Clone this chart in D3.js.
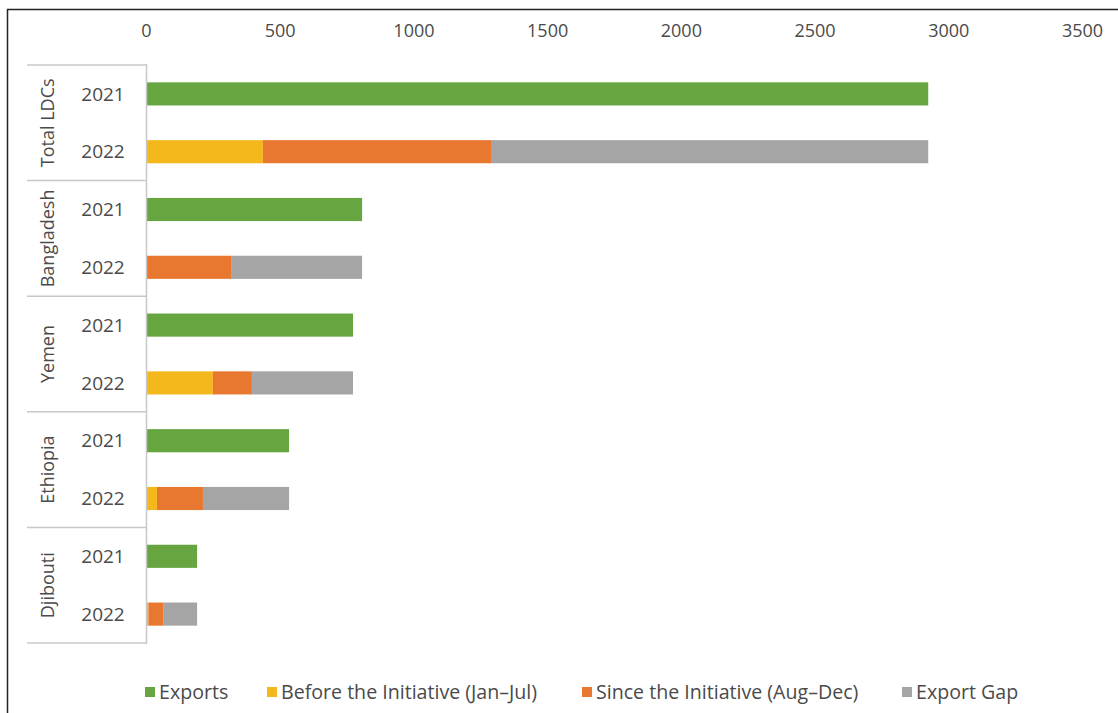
<!DOCTYPE html>
<html><head><meta charset="utf-8">
<script src="https://cdn.jsdelivr.net/npm/d3@7"></script>
<style>body{margin:0;background:#fff}svg{display:block}text{font-family:"Open Sans","Noto Sans",sans-serif;fill:#4a4a4a}</style>
</head><body><svg id="c" width="1118" height="713"></svg>
<script>
const groups = ["Total LDCs","Bangladesh","Yemen","Ethiopia","Djibouti"];
const years = ["2021","2022"];
const exports2021 = [2925, 808, 774, 535, 191];
const before2022 = [437, 0, 250, 41, 9];
const since2022 = [853, 318, 146, 172, 55];
const gap2022 = [1635, 490, 378, 322, 127];
const ticks = [0,500,1000,1500,2000,2500,3000,3500];
const seriesNames = ["Exports","Before the Initiative (Jan\u2013Jul)","Since the Initiative (Aug\u2013Dec)","Export Gap"];
const colors = ["#66a53f","#f5b81c","#e87730","#a5a5a5"];

const svg = d3.select("#c");
// frame
svg.append("path").attr("d","M7.5,713 V9.5 H1118").attr("fill","none").attr("stroke","#222").attr("stroke-width",1.5);

const x = d3.scaleLinear().domain([0,3500]).range([146,1082]);
const rows = [];
groups.forEach((g,i)=>years.forEach(y=>rows.push(g+"|"+y)));
const yb = d3.scaleBand().domain(rows).range([65,643]).paddingInner(0.6).paddingOuter(0.3);

// top axis labels
const ax = svg.append("g").attr("transform","translate(0,40)").call(d3.axisTop(x).tickValues(ticks).tickSize(0).tickFormat(d3.format("d")));
ax.select(".domain").remove();
ax.selectAll("text").attr("font-size",18).style("fill","#4a4a4a").attr("font-family","Open Sans");

// stacked data
const stackRows = [];
groups.forEach((g,i)=>{
  stackRows.push({key:g+"|2021", vals:[exports2021[i],0,0,0]});
  stackRows.push({key:g+"|2022", vals:[0,before2022[i],since2022[i],gap2022[i]]});
});
stackRows.forEach(r=>{
  let acc=0;
  r.vals.forEach((v,k)=>{
    if(v>0){
      svg.append("rect").attr("x",x(acc)).attr("width",x(acc+v)-x(acc))
        .attr("y",yb(r.key)).attr("height",yb.bandwidth()).attr("fill",colors[k]);
    }
    acc+=v;
  });
});

// axis line
svg.append("line").attr("x1",146.5).attr("x2",146.5).attr("y1",64).attr("y2",644).attr("stroke","#c8c8c8").attr("stroke-width",1.5);

// group separators and labels
groups.forEach((g,i)=>{
  const y0 = 65 + i*(578/5);
  svg.append("line").attr("x1",27).attr("x2",146).attr("y1",y0).attr("y2",y0).attr("stroke","#c8c8c8").attr("stroke-width",1.5);
  const cy = y0 + 578/10;
  svg.append("text").attr("transform",`translate(54,${cy}) rotate(-90)`).attr("text-anchor","middle")
    .attr("font-size",18).text(g);
  years.forEach(y=>{
    svg.append("text").attr("x",103).attr("y",yb(g+"|"+y)+yb.bandwidth()/2).attr("dy","0.35em")
      .attr("text-anchor","middle").attr("font-size",19).text(y);
  });
});
svg.append("line").attr("x1",27).attr("x2",146).attr("y1",643).attr("y2",643).attr("stroke","#c8c8c8").attr("stroke-width",1.5);

// legend
const legX = [145,267,582,902];
seriesNames.forEach((s,k)=>{
  svg.append("rect").attr("x",legX[k]).attr("y",687).attr("width",10).attr("height",10).attr("fill",colors[k]);
  svg.append("text").attr("x",legX[k]+14).attr("y",692).attr("dy","0.35em").attr("font-size",19.6).text(s);
});
</script></body></html>
